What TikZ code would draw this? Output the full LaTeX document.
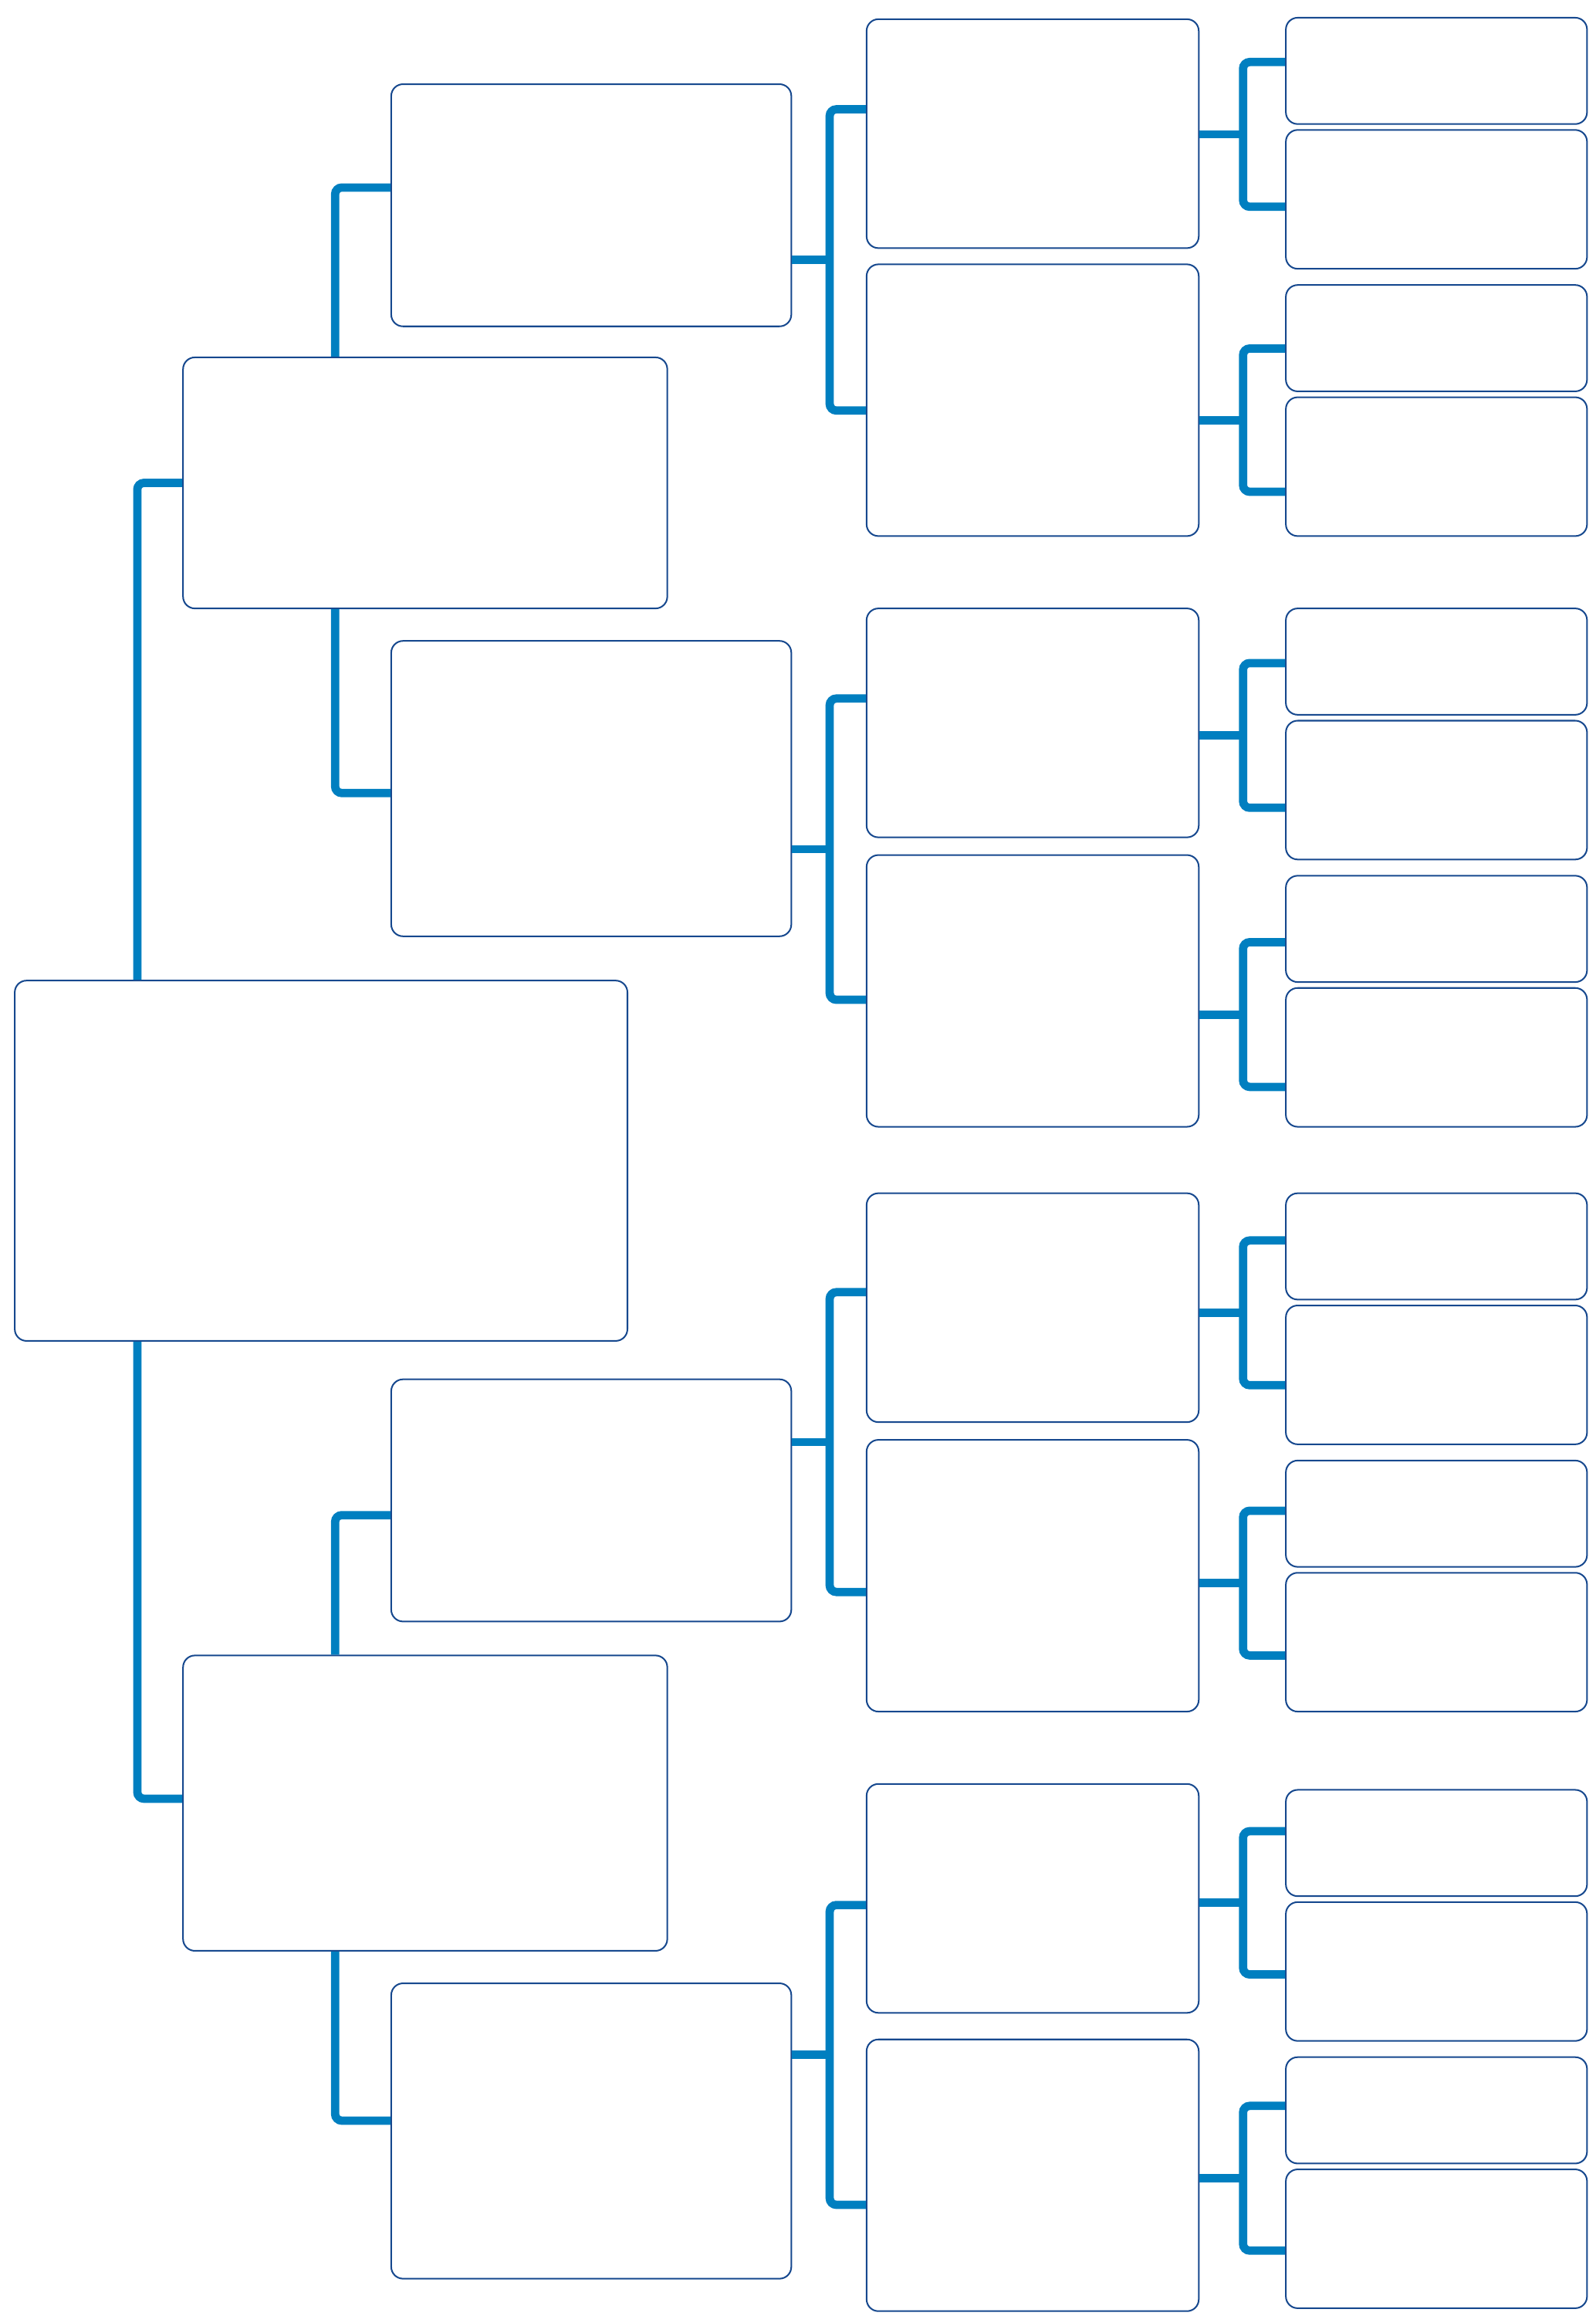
\documentclass[tikz,border=0pt]{standalone}
\usepackage{tikz}

\begin{document}
\begin{tikzpicture}[x=0.02cm,y=-0.02cm,
    box/.style={draw=boxblue,fill=white,line width=0.6pt,rounded corners=0.16cm,inner sep=0pt},
    link/.style={draw=linkblue,line width=3.2pt},
    fork/.style={link,rounded corners=0.09cm}]
      \definecolor{boxblue}{RGB}{22,72,142};
      \definecolor{linkblue}{RGB}{0,127,192};
      \useasboundingbox (0,0) rectangle (1080.8,1568.3);
      \foreach \n/\xa/\ya/\xb/\yb in {root/10/664/425/908,
          a/124/242/452/412, b/124/1121/452/1321,
          aa/265/57/536/221, ab/265/434/536/634, ba/265/934/536/1098, bb/265/1343/536/1543,
          aaa/587/13/812/168, aab/587/179/812/363, aba/587/412/812/567, abb/587/579/812/763,
          baa/587/808/812/963, bab/587/975/812/1159, bba/587/1208/812/1363, bbb/587/1381/812/1565,
          aaaa/871/12/1075/84, aaab/871/88/1075/182, aaba/871/193/1075/265, aabb/871/269/1075/363,
          abaa/871/412/1075/484, abab/871/488/1075/582, abba/871/593/1075/665, abbb/871/669/1075/763,
          baaa/871/808/1075/880, baab/871/884/1075/978, baba/871/989/1075/1061, babb/871/1065/1075/1159,
          bbaa/871/1212/1075/1284, bbab/871/1288/1075/1382, bbba/871/1393/1075/1465, bbbb/871/1469/1075/1563}{
      \node[box,minimum width={(\xb-\xa)*0.02cm},minimum height={(\yb-\ya)*0.02cm}] (\n) at ({(\xa+\xb)/2},{(\ya+\yb)/2}) {};
      }
      \foreach \p/\c/\d/\t/\ya/\yb in {root/a/b/93/327/1218, a/aa/ab/227/127/537, b/ba/bb/227/1026/1436}{
      \draw[fork] (\p.north -| \t,0) |- (\c.west |- 0,\ya);
      \draw[fork] (\p.south -| \t,0) |- (\d.west |- 0,\yb);
      }
      \foreach \p/\t/\ya/\yb in {aa/562/74/278, ab/562/473/677, ba/562/875/1078, bb/562/1290/1493,
          aaa/842/42/140, aab/842/236/333, aba/842/449/547, abb/842/638/736,
          baa/842/840/938, bab/842/1023/1121, bba/842/1240/1337, bbb/842/1426/1524}{
      \pgfmathsetmacro{\ym}{(\ya+\yb)/2}
      \draw[link] (\p.east |- 0,\ym) -- (\t,\ym);
      \draw[fork] (\p a.west |- 0,\ya) -| (\t,\yb) -- (\p b.west |- 0,\yb);
      }
\end{tikzpicture}
\end{document}
